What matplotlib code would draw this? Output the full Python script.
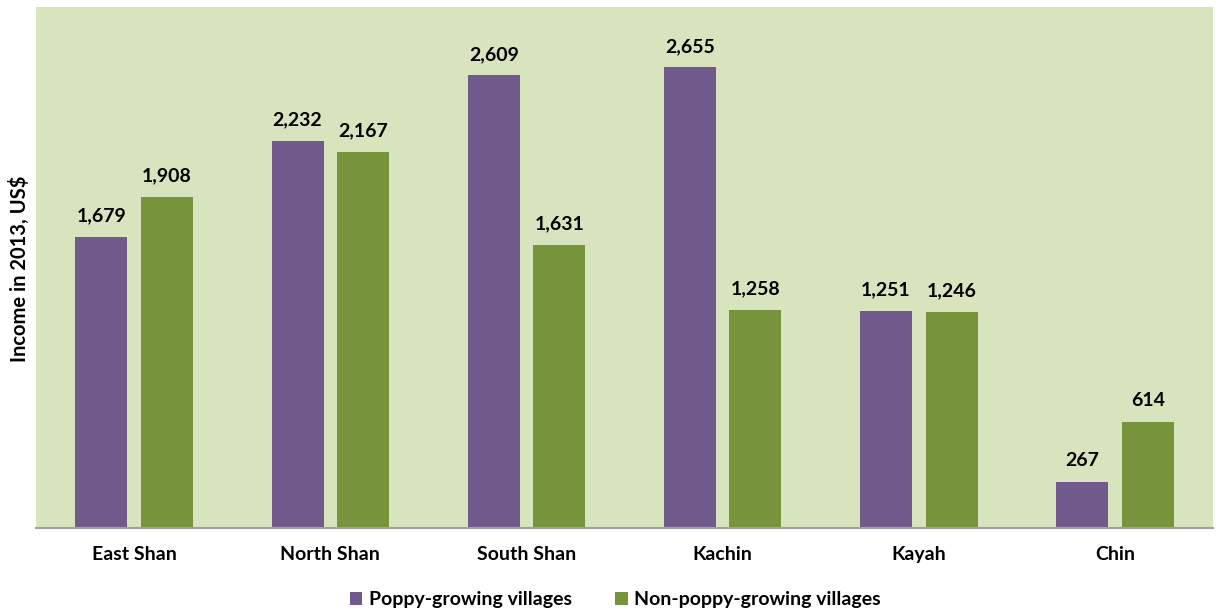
import matplotlib
matplotlib.use('Agg')
import matplotlib.pyplot as plt
import numpy as np

regions = ['East Shan', 'North Shan', 'South Shan', 'Kachin', 'Kayah', 'Chin']
poppy = [1679, 2232, 2609, 2655, 1251, 267]
non_poppy = [1908, 2167, 1631, 1258, 1246, 614]
series_names = ['Poppy-growing villages', 'Non-poppy-growing villages']

purple = '#705a8c'
green = '#77933c'
plt.rcParams['font.family'] = ['Lato', 'DejaVu Sans']
plt.rcParams['font.weight'] = 'bold'

fig = plt.figure(figsize=(12.21, 6.12), dpi=100)
ax = fig.add_axes([0.0295, 0.137, 0.964, 0.852])
ax.set_facecolor('#d7e4bd')

x = np.arange(len(regions))
w = 0.265
off = 0.167
b1 = ax.bar(x - off, poppy, w, color=purple, label=series_names[0])
b2 = ax.bar(x + off, non_poppy, w, color=green, label=series_names[1])

# value labels above each bar
for bars, vals in ((b1, poppy), (b2, non_poppy)):
    for rect, v in zip(bars, vals):
        ax.annotate(f'{v:,}', (rect.get_x() + rect.get_width() / 2, v),
                    xytext=(0, 9), textcoords='offset points',
                    ha='center', va='bottom', fontsize=14, fontweight='bold')

ax.set_xlim(-0.5, len(regions) - 0.5)
ax.set_ylim(0, 3005)
ax.set_yticks([])
ax.set_xticks(x)
ax.set_xticklabels(regions, fontsize=14, fontweight='bold')
ax.tick_params(axis='x', length=0, pad=13)
for s in ['top', 'right', 'left']:
    ax.spines[s].set_visible(False)
ax.spines['bottom'].set_color('#a0a0a0')
ax.spines['bottom'].set_linewidth(1.5)

fig.text(0.016, 0.56, 'Income in 2013, US$', rotation=90, ha='center', va='center',
         fontsize=14.5, fontweight='bold')

fig.legend(handles=[b1, b2], loc='lower center', bbox_to_anchor=(0.504, -0.022),
           ncol=2, frameon=False, fontsize=14, handlelength=0.65, handleheight=0.65,
           handletextpad=0.35, columnspacing=2.2)

fig.savefig('out.png', dpi=100)
